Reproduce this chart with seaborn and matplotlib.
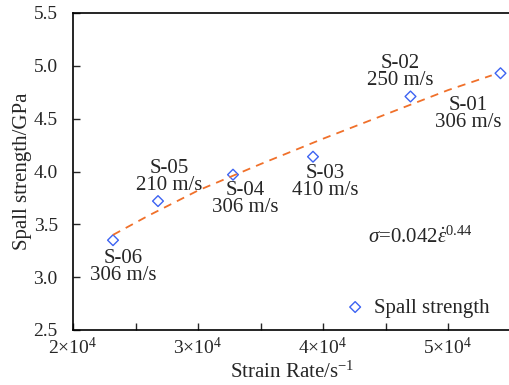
import matplotlib
matplotlib.use("Agg")
import matplotlib.pyplot as plt
import seaborn as sns
import pandas as pd
from matplotlib.ticker import FixedLocator, MultipleLocator

sns.set_style("ticks")
plt.rcParams['font.family'] = 'serif'
plt.rcParams['font.serif'] = ['Liberation Serif', 'DejaVu Serif']
plt.rcParams['mathtext.fontset'] = 'custom'
plt.rcParams['mathtext.rm'] = 'Liberation Serif'
plt.rcParams['mathtext.it'] = 'Liberation Serif:italic'
plt.rcParams['mathtext.bf'] = 'Liberation Serif:bold'
FAM = 'Liberation Serif'
FS = 15
TFS = 14

# data
samples = ["S-01", "S-02", "S-03", "S-04", "S-05", "S-06"]
velocities = ["306 m/s", "250 m/s", "410 m/s", "306 m/s", "210 m/s", "306 m/s"]
strain_rate = [5.42e4, 4.70e4, 3.92e4, 3.28e4, 2.68e4, 2.32e4]
spall_strength = [4.93, 4.71, 4.14, 3.97, 3.72, 3.35]

fit_x = [2.32e4, 2.6e4, 3.0e4, 3.5e4, 4.0e4, 4.5e4, 5.0e4, 5.35e4]
fit_y = [3.40, 3.58, 3.82, 4.07, 4.31, 4.54, 4.77, 4.91]

label_x = [5.16e4, 4.62e4, 4.02e4, 3.38e4, 2.77e4, 2.40e4]
label_y = [4.54, 4.94, 3.90, 3.74, 3.95, 3.10]

x_ticks = [2e4, 3e4, 4e4, 5e4]
x_tick_labels = [r"$2{\times}10^{4}$", r"$3{\times}10^{4}$", r"$4{\times}10^{4}$", r"$5{\times}10^{4}$"]
y_ticks = [2.5, 3.0, 3.5, 4.0, 4.5, 5.0, 5.5]

df = pd.DataFrame({"rate": strain_rate, "strength": spall_strength})
fit_df = pd.DataFrame({"rate": fit_x, "strength": fit_y})

fig = plt.figure(figsize=(5.09, 3.85), dpi=100)
ax = fig.add_axes([73/509, 55/385, 1 - 73/509, 317/385])

sns.lineplot(data=fit_df, x="rate", y="strength", ax=ax, color="#f0702a",
             linestyle=(0, (4.5, 3.5)), linewidth=1.3, legend=False)
sns.scatterplot(data=df, x="rate", y="strength", ax=ax, marker="D", s=30,
                facecolor="none", edgecolor="#3d63f2", linewidth=1.0,
                label="Spall strength")

for s, v, lx, ly in zip(samples, velocities, label_x, label_y):
    ax.text(lx, ly, f"{s}\n{v}", ha="center", va="center", fontsize=FS,
            linespacing=0.85, family=FAM)

ax.text(4.36e4, 3.38, r"$\mathit{\sigma}$=0.042$\dot{\mathit{\varepsilon}}^{0.44}$",
        ha="left", va="center", fontsize=FS, family=FAM)

ax.set_xlim(2e4, 2e4 + (509 - 73) / 125 * 1e4)
ax.set_ylim(2.5, 5.5)
ax.xaxis.set_major_locator(FixedLocator(x_ticks))
ax.set_xticklabels(x_tick_labels, family=FAM, fontsize=TFS)
ax.xaxis.set_minor_locator(MultipleLocator(5e3))
ax.set_yticks(y_ticks)
ax.set_yticklabels([f"{v:.1f}" for v in y_ticks], family=FAM, fontsize=TFS)

ax.tick_params(axis="both", which="both", direction="in", length=5, width=1,
               top=False, right=False)
ax.tick_params(axis="y", pad=11)
ax.tick_params(axis="x", pad=5)
for side in ["left", "bottom", "top"]:
    ax.spines[side].set_visible(True)
    ax.spines[side].set_linewidth(1.2)
    ax.spines[side].set_color("black")
ax.spines["right"].set_visible(False)

ax.set_xlabel(r"Strain Rate/s$^{-1}$", fontsize=FS, family=FAM)
ax.set_ylabel("Spall strength/GPa", fontsize=FS, family=FAM)
ax.xaxis.set_label_coords(0.503, -0.10)
ax.yaxis.set_label_coords(-0.094, 0.5)

leg = ax.legend(loc="lower right", bbox_to_anchor=(0.984, 0.0), frameon=False,
                prop={"family": FAM, "size": FS}, handletextpad=0.2,
                handlelength=1.4, borderaxespad=0.2)

fig.savefig("out.png", dpi=100)
